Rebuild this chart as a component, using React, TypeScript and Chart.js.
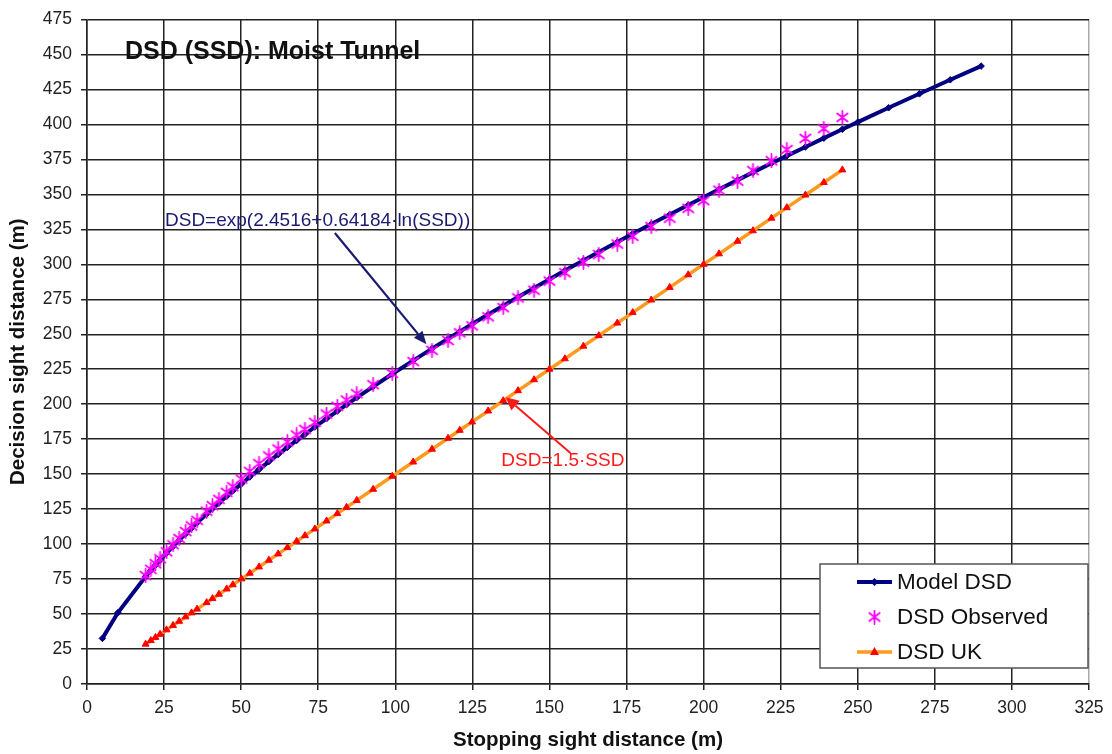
import React, { useEffect, useRef } from "react";
import { Chart, registerables } from "chart.js";

Chart.register(...registerables);

// ---- data ----
const ssdObserved = [19, 20.7, 22.2, 23.7, 25.8, 27.9, 29.9, 32, 33.9, 35.7, 38.8, 40.7, 42.8, 45.3, 47.3, 50.1, 52.8, 55.8, 59, 62, 65, 68, 70.7, 73.9, 77.7, 81.2, 84.2, 87.5, 92.8, 99, 105.8, 111.9, 117.1, 120.9, 124.9, 130.1, 135, 139.8, 145, 150, 155, 161, 166, 172, 177, 183, 189, 195, 200, 205, 211, 216, 222, 227, 233, 239, 245];
const dsdObserved = [77.5, 82, 86, 89.5, 94.5, 99.5, 104, 109, 113, 117, 123.5, 127.5, 132, 137, 141, 146.5, 152, 157.5, 163, 168, 173, 178, 182, 187, 193, 198.5, 203, 207.5, 214, 222, 230.5, 238.5, 245.5, 251, 256, 262.5, 269, 276, 281.5, 288, 294, 301.5, 307, 314.5, 320, 327, 333, 340, 345.5, 353, 359.5, 367, 374, 382, 390, 397, 405];
const ssdModel = [5, 10, 19, 20.7, 22.2, 23.7, 25.8, 27.9, 29.9, 32, 33.9, 35.7, 38.8, 40.7, 42.8, 45.3, 47.3, 50.1, 52.8, 55.8, 59, 62, 65, 68, 70.7, 73.9, 77.7, 81.2, 84.2, 87.5, 92.8, 99, 105.8, 111.9, 117.1, 120.9, 124.9, 130.1, 135, 139.8, 145, 150, 155, 161, 166, 172, 177, 183, 189, 195, 200, 205, 211, 216, 222, 227, 233, 239, 245, 250, 260, 270, 280, 290];
const dsdModel = [32.6, 50.9, 76.8, 81.2, 84.9, 88.5, 93.5, 98.3, 102.8, 107.3, 111.4, 115.2, 121.5, 125.3, 129.4, 134.2, 138.0, 143.1, 148.0, 153.4, 159.0, 164.1, 169.2, 174.1, 178.5, 183.7, 189.7, 195.1, 199.7, 204.7, 212.6, 221.6, 231.2, 239.7, 246.8, 251.9, 257.3, 264.1, 270.4, 276.6, 283.1, 289.3, 295.5, 302.8, 308.8, 315.9, 321.8, 328.8, 335.6, 342.4, 348.0, 353.6, 360.2, 365.7, 372.2, 377.5, 383.9, 390.2, 396.5, 401.6, 411.9, 421.9, 431.9, 441.7];
const dsdUK = [28.5, 31.05, 33.3, 35.55, 38.7, 41.85, 44.85, 48, 50.85, 53.55, 58.2, 61.05, 64.2, 67.95, 70.95, 75.15, 79.2, 83.7, 88.5, 93, 97.5, 102, 106.05, 110.85, 116.55, 121.8, 126.3, 131.25, 139.2, 148.5, 158.7, 167.85, 175.65, 181.35, 187.35, 195.15, 202.5, 209.7, 217.5, 225, 232.5, 241.5, 249, 258, 265.5, 274.5, 283.5, 292.5, 300, 307.5, 316.5, 324, 333, 340.5, 349.5, 358.5, 367.5];

const seriesNames = ["Model DSD", "DSD Observed", "DSD UK"];
const chartTitle = "DSD (SSD): Moist Tunnel";
const xTitle = "Stopping sight distance (m)";
const yTitle = "Decision sight distance (m)";
const xMin = 0, xMax = 325, xStep = 25;
const yMin = 0, yMax = 475, yStep = 25;

const modelNote = "DSD=exp(2.4516+0.64184·ln(SSD))";
const modelNotePos = { x: 25.3, y: 331.4 };
const modelArrow = { from: { x: 80.4, y: 322.4 }, to: { x: 110.1, y: 242.9 } };
const ukNote = "DSD=1.5·SSD";
const ukNotePos = { x: 134.4, y: 159.6 };
const ukArrow = { from: { x: 156.8, y: 165.2 }, to: { x: 135.8, y: 205 } };
const titlePos = { x: 12.3, y: 451.4 };

const FONT = '"Liberation Sans", Arial, Helvetica, sans-serif';
const NAVY = "#000080";
const MAGENTA = "#ff00ff";
const ORANGE = "#ff9a1f";
const RED = "#ff0000";

function makeAsterisk(size: number, color: string, lw: number) {
  const c = document.createElement("canvas");
  c.width = size;
  c.height = size;
  const g = c.getContext("2d")!;
  g.strokeStyle = color;
  g.lineWidth = lw;
  g.lineCap = "round";
  const m = size / 2;
  const r = size / 2 - 1;
  g.beginPath();
  g.moveTo(m, m - r);
  g.lineTo(m, m + r);
  const dx = r * 0.8, dy = r * 0.62;
  g.moveTo(m - dx, m - dy);
  g.lineTo(m + dx, m + dy);
  g.moveTo(m + dx, m - dy);
  g.lineTo(m - dx, m + dy);
  g.stroke();
  return c;
}

function drawArrow(ctx: CanvasRenderingContext2D, x1: number, y1: number, x2: number, y2: number, color: string, lw: number, head: number, headW: number) {
  const ang = Math.atan2(y2 - y1, x2 - x1);
  const bx = x2 - head * Math.cos(ang);
  const by = y2 - head * Math.sin(ang);
  ctx.save();
  ctx.strokeStyle = color;
  ctx.fillStyle = color;
  ctx.lineWidth = lw;
  ctx.beginPath();
  ctx.moveTo(x1, y1);
  ctx.lineTo(bx, by);
  ctx.stroke();
  ctx.beginPath();
  ctx.moveTo(x2, y2);
  ctx.lineTo(bx + headW * Math.sin(ang), by - headW * Math.cos(ang));
  ctx.lineTo(bx - headW * Math.sin(ang), by + headW * Math.cos(ang));
  ctx.closePath();
  ctx.fill();
  ctx.restore();
}

export default function App() {
  const ref = useRef<HTMLCanvasElement>(null);

  useEffect(() => {
    const canvas = ref.current!;
    const asterisk = makeAsterisk(15, MAGENTA, 1.8);

    const overlay = {
      id: "overlay",
      afterDraw(chart: any) {
        const ctx: CanvasRenderingContext2D = chart.ctx;
        const xs = chart.scales.x;
        const ys = chart.scales.y;
        const area = chart.chartArea;
        ctx.save();
        // title
        ctx.font = `bold 25px ${FONT}`;
        ctx.fillStyle = "#111";
        ctx.textAlign = "left";
        ctx.textBaseline = "middle";
        ctx.fillText(chartTitle, xs.getPixelForValue(titlePos.x), ys.getPixelForValue(titlePos.y));

        // model annotation
        ctx.font = `19px ${FONT}`;
        ctx.fillStyle = "#1a1a70";
        ctx.fillText(modelNote, xs.getPixelForValue(modelNotePos.x), ys.getPixelForValue(modelNotePos.y));
        drawArrow(ctx,
          xs.getPixelForValue(modelArrow.from.x), ys.getPixelForValue(modelArrow.from.y),
          xs.getPixelForValue(modelArrow.to.x), ys.getPixelForValue(modelArrow.to.y),
          "#1a1a70", 2.2, 13, 5.5);

        // UK annotation
        ctx.font = `19px ${FONT}`;
        ctx.fillStyle = "#ff1a1a";
        ctx.fillText(ukNote, xs.getPixelForValue(ukNotePos.x), ys.getPixelForValue(ukNotePos.y));
        drawArrow(ctx,
          xs.getPixelForValue(ukArrow.from.x), ys.getPixelForValue(ukArrow.from.y),
          xs.getPixelForValue(ukArrow.to.x), ys.getPixelForValue(ukArrow.to.y),
          "#ff1a1a", 2, 13, 6.5);

        // legend box
        const bw = 268, bh = 104;
        const bx = area.right - bw - 1;
        const by = area.bottom - 16 - bh;
        ctx.fillStyle = "#fff";
        ctx.fillRect(bx, by, bw, bh);
        ctx.strokeStyle = "#555";
        ctx.lineWidth = 1.5;
        ctx.strokeRect(bx, by, bw, bh);
        const sx1 = bx + 37, sx2 = bx + 72, sc = (sx1 + sx2) / 2;
        const rows = [by + 18, by + 53, by + 88];
        // model
        ctx.strokeStyle = NAVY;
        ctx.lineWidth = 4;
        ctx.beginPath();
        ctx.moveTo(sx1, rows[0]);
        ctx.lineTo(sx2, rows[0]);
        ctx.stroke();
        ctx.fillStyle = NAVY;
        ctx.beginPath();
        ctx.moveTo(sc, rows[0] - 4);
        ctx.lineTo(sc + 4, rows[0]);
        ctx.lineTo(sc, rows[0] + 4);
        ctx.lineTo(sc - 4, rows[0]);
        ctx.closePath();
        ctx.fill();
        // observed
        ctx.drawImage(asterisk, sc - 7.5, rows[1] - 7.5);
        // UK
        ctx.strokeStyle = ORANGE;
        ctx.lineWidth = 3.5;
        ctx.beginPath();
        ctx.moveTo(sx1, rows[2]);
        ctx.lineTo(sx2, rows[2]);
        ctx.stroke();
        ctx.fillStyle = RED;
        ctx.beginPath();
        ctx.moveTo(sc, rows[2] - 5);
        ctx.lineTo(sc + 4.5, rows[2] + 3);
        ctx.lineTo(sc - 4.5, rows[2] + 3);
        ctx.closePath();
        ctx.fill();
        // labels
        ctx.font = `22.5px ${FONT}`;
        ctx.fillStyle = "#111";
        ctx.textAlign = "left";
        ctx.textBaseline = "middle";
        seriesNames.forEach((n, i) => ctx.fillText(n, sx2 + 5, rows[i] + 1));
        ctx.restore();
      },
    };

    const gridColor = (c: any) => (c.tick && c.tick.value === xMax ? "#aaaaaa" : "#222222");

    const chart = new Chart(canvas, {
      type: "scatter",
      data: {
        datasets: [
          {
            label: seriesNames[1],
            data: ssdObserved.map((x, i) => ({ x, y: dsdObserved[i] })),
            showLine: false,
            pointStyle: asterisk as any,
            pointRadius: 7.5,
            borderColor: MAGENTA,
            backgroundColor: MAGENTA,
            order: 0,
          },
          {
            label: seriesNames[0],
            data: ssdModel.map((x, i) => ({ x, y: dsdModel[i] })),
            showLine: true,
            borderColor: NAVY,
            backgroundColor: NAVY,
            borderWidth: 4,
            pointStyle: "rectRot",
            pointRadius: 3.3,
            pointBackgroundColor: NAVY,
            pointBorderColor: NAVY,
            pointBorderWidth: 1,
            tension: 0,
            order: 1,
          },
          {
            label: seriesNames[2],
            data: ssdObserved.map((x, i) => ({ x, y: dsdUK[i] })),
            showLine: true,
            borderColor: ORANGE,
            backgroundColor: RED,
            borderWidth: 3.5,
            pointStyle: "triangle",
            pointRadius: 4,
            pointBackgroundColor: RED,
            pointBorderColor: RED,
            pointBorderWidth: 1,
            tension: 0,
            order: 2,
          },
        ],
      },
      options: {
        responsive: false,
        animation: false,
        events: [],
        layout: { padding: { top: 19, right: 23, bottom: 0, left: 0 } },
        plugins: {
          legend: { display: false },
          tooltip: { enabled: false },
          title: { display: false },
        },
        scales: {
          x: {
            type: "linear",
            min: xMin,
            max: xMax,
            ticks: { stepSize: xStep, color: "#222", font: { family: FONT, size: 17.5 }, padding: 8 },
            grid: { color: gridColor, lineWidth: 1.5, tickLength: 6, tickColor: "#222" },
            border: { color: "#222", width: 1.5 },
            title: {
              display: true,
              text: xTitle,
              color: "#111",
              font: { family: FONT, size: 20.5, weight: "bold" },
              padding: { top: 0, bottom: 1 },
            },
            afterFit: (s: any) => {
              s.height = 70;
            },
          },
          y: {
            type: "linear",
            min: yMin,
            max: yMax,
            ticks: { stepSize: yStep, color: "#222", font: { family: FONT, size: 17.5 }, padding: 9 },
            grid: { color: "#222222", lineWidth: 1.5, tickLength: 6 },
            border: { color: "#222", width: 1.5 },
            title: {
              display: true,
              text: yTitle,
              color: "#111",
              font: { family: FONT, size: 20.5, weight: "bold" },
              padding: { top: 6, bottom: 0 },
            },
            afterFit: (s: any) => {
              s.width = 87;
            },
          },
        },
      },
      plugins: [overlay],
    } as any);

    return () => chart.destroy();
  }, []);

  return (
    <div style={{ position: "fixed", left: 0, top: 0, width: 1112, height: 754, background: "#fff" }}>
      <canvas ref={ref} width={1112} height={754} style={{ display: "block" }} />
    </div>
  );
}
